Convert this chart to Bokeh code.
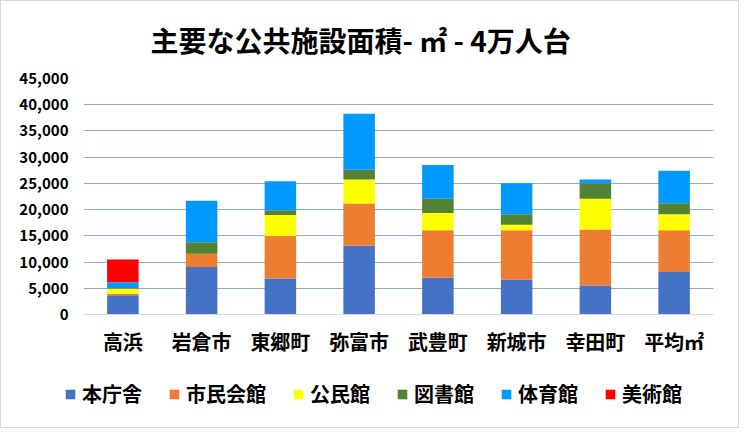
from bokeh.plotting import figure
from bokeh.layouts import column
from bokeh.models import ColumnDataSource, Label, Legend, LegendItem, NumeralTickFormatter, Range1d
from bokeh.embed import file_html
from bokeh.resources import INLINE

cities = ["高浜", "岩倉市", "東郷町", "弥富市", "武豊町", "新城市", "幸田町", "平均㎡"]
series = ["本庁舎", "市民会館", "公民館", "図書館", "体育館", "美術館"]
honchosha = [3680, 9060, 6870, 13120, 6990, 6620, 5520, 8100]
shimin_kaikan = [240, 2520, 8090, 8040, 9070, 9440, 10670, 7960]
kominkan = [1000, 0, 3990, 4600, 3310, 1050, 5890, 3070]
toshokan = [100, 2210, 920, 1840, 2710, 2020, 2940, 2090]
taiikukan = [1110, 7900, 5520, 10670, 6440, 5890, 740, 6200]
bijutsukan = [4350, 0, 0, 0, 0, 0, 0, 0]
colors = ["#4472C4", "#ED7D31", "#FFFF00", "#548235", "#0099FF", "#FF0000"]
y_ticks = list(range(0, 45001, 5000))
title_text = "主要な公共施設面積- ㎡ - 4万人台"

data = {"city": cities}
for name, vals in zip(series, [honchosha, shimin_kaikan, kominkan, toshokan, taiikukan, bijutsukan]):
    data[name] = vals
source = ColumnDataSource(data)

FONT = "Noto Sans CJK JP"
W, HT, H1, H2 = 737, 62, 308, 56


def strip(height):
    f = figure(x_range=Range1d(0, 1), y_range=Range1d(0, 1), width=W, height=height,
               output_backend="svg", toolbar_location=None,
               x_axis_location=None, y_axis_location=None,
               min_border_left=0, min_border_right=0, min_border_top=0, min_border_bottom=0)
    f.grid.visible = False
    f.outline_line_color = None
    f.frame_align = False
    return f


# title strip
tt = strip(HT)
tt.add_layout(Label(x=149, y=HT - 38, x_units="screen", y_units="screen", text=title_text,
                    text_font=FONT, text_font_style="bold", text_font_size="28px",
                    text_align="left", text_baseline="middle", text_color="#000000"))

# chart
p = figure(x_range=cities, y_range=Range1d(0, 45000), width=W, height=H1,
           output_backend="svg", toolbar_location=None,
           min_border_left=82, min_border_right=25, min_border_top=77 - HT, min_border_bottom=57)
p.outline_line_color = None
p.frame_align = False

bars = p.vbar_stack(series, x="city", width=0.4, color=colors, source=source, line_color=None)

p.xgrid.grid_line_color = None
p.ygrid.grid_line_color = "#8EAADB"
p.ygrid.grid_line_width = 1
p.yaxis.ticker = y_ticks
p.yaxis.formatter = NumeralTickFormatter(format="0,0")
p.yaxis.axis_line_color = None
p.yaxis.major_tick_line_color = None
p.yaxis.minor_tick_line_color = None
p.yaxis.major_tick_out = 0
p.yaxis.major_label_standoff = 15
p.yaxis.major_label_text_font = FONT
p.yaxis.major_label_text_font_style = "bold"
p.yaxis.major_label_text_font_size = "15px"
p.yaxis.major_label_text_color = "#000000"

p.xaxis.axis_line_color = "#D9D9D9"
p.xaxis.major_tick_line_color = None
p.xaxis.minor_tick_line_color = None
p.xaxis.major_tick_out = 0
p.xaxis.major_label_standoff = 12
p.xaxis.major_label_text_font = FONT
p.xaxis.major_label_text_font_style = "bold"
p.xaxis.major_label_text_font_size = "20px"
p.xaxis.major_label_text_color = "#000000"

# legend strip: same series and colours, drawn by Bokeh's Legend
lg = strip(H2)
swatches = [lg.vbar(x=5, top=5, width=0.4, color=c, line_color=None) for c in colors]
legend = Legend(items=[LegendItem(label=s, renderers=[r]) for s, r in zip(series, swatches)],
                orientation="horizontal", location=(63, 19),
                glyph_width=12, glyph_height=12, label_standoff=6, spacing=26,
                padding=0, margin=0, border_line_color=None, background_fill_alpha=0,
                label_text_font=FONT, label_text_font_style="bold",
                label_text_font_size="20px", label_text_color="#000000")
lg.add_layout(legend, "center")

layout = column(tt, p, lg, spacing=0)
layout.styles = {"border": "1px solid #d9d9d9", "box-sizing": "border-box"}

open("out.html", "w").write(file_html(layout, INLINE))
